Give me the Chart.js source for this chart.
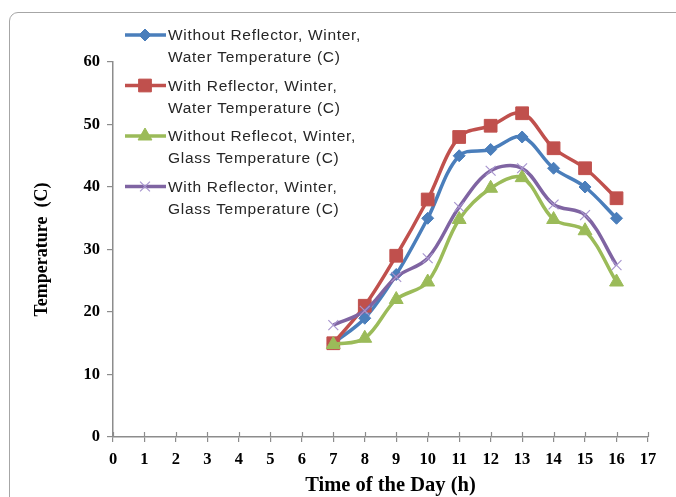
<!DOCTYPE html>
<html>
<head>
<meta charset="utf-8">
<script src="https://cdn.jsdelivr.net/npm/chart.js@4.4.1/dist/chart.umd.min.js"></script>
<style>
    html, body { margin: 0; padding: 0; background: #fff; }
    #wrap { position: relative; width: 676px; height: 497px; overflow: hidden; }
    #frame { position: absolute; left: 9px; top: 12px; width: 720px; height: 540px;
             border: 1px solid #a6a6a6; border-radius: 9px; }
    #chart { position: absolute; left: 0; top: 0; }
</style>
</head>
<body>
<div id="wrap">
    <div id="frame"></div>
    <canvas id="chart" width="676" height="497"></canvas>
</div>
<script>
'use strict';

// hour of the day for each reading
const hours = [7, 8, 9, 10, 11, 12, 13, 14, 15, 16];

// temperatures in C
const withoutReflectorWater = [15, 19, 26, 35, 45, 46, 48, 43, 40, 35];
const withReflectorWater = [15, 21, 29, 38, 48, 49.8, 51.8, 46.2, 43, 38.2];
const withoutReflectorGlass = [14.8, 15.8, 22, 24.8, 34.8, 39.8, 41.5, 34.8, 33, 24.8];
const withReflectorGlass = [17.9, 20.2, 25.6, 28.6, 36.8, 42.6, 43, 37.2, 35.5, 27.5];

const seriesNames = [
    ['Without Reflector, Winter,', 'Water Temperature (C)'],
    ['With Reflector, Winter,', 'Water Temperature (C)'],
    ['Without Reflecot, Winter,', 'Glass Temperature (C)'],
    ['With Reflector, Winter,', 'Glass Temperature (C)']
];

const xTitle = 'Time of the Day (h)';
const yTitle = 'Temperature  (C)';

const xMin = 0, xMax = 17, xStep = 1;
const yMin = 0, yMax = 60, yStep = 10;

const AXIS_COLOR = '#8c8c8c';
const SERIF = '"Liberation Serif", "Times New Roman", serif';

function toPoints(values) {
    return values.map((v, i) => ({x: hours[i], y: v}));
}

function makeSeries(idx, values, color, style, radius, extra) {
    return Object.assign({
        label: seriesNames[idx].join(' '),
        data: toPoints(values),
        borderColor: color,
        backgroundColor: color,
        borderWidth: 3.5,
        tension: 0.35,
        pointStyle: style,
        pointRadius: radius,
        pointHoverRadius: radius,
        pointBorderColor: color,
        pointBackgroundColor: color,
        pointBorderWidth: 1
    }, extra || {});
}

const datasets = [
    makeSeries(0, withoutReflectorWater, '#4a7ebb', 'rectRot', 6, {order: 4}),
    makeSeries(1, withReflectorWater, '#c0504d', 'rect', 9, {order: 3}),
    makeSeries(2, withoutReflectorGlass, '#9bbb59', 'triangle', 8, {order: 2}),
    makeSeries(3, withReflectorGlass, '#7f64a2', 'crossRot', 7,
        {order: 1, pointBorderColor: '#a896cf', pointBorderWidth: 1.2})
];

// legend with two-line labels, drawn in the upper left of the plot
const twoLineLegend = {
    id: 'twoLineLegend',
    afterDraw(chart) {
        const ctx = chart.ctx;
        ctx.save();
        ctx.font = '15.5px "Liberation Sans", Arial, sans-serif';
        ctx.letterSpacing = '0.7px';
        ctx.textBaseline = 'middle';
        ctx.textAlign = 'left';
        chart.data.datasets.forEach((ds, i) => {
            const y = 35 + i * 50.5;
            ctx.strokeStyle = ds.borderColor;
            ctx.lineWidth = ds.borderWidth;
            ctx.beginPath();
            ctx.moveTo(125, y);
            ctx.lineTo(166, y);
            ctx.stroke();
            ctx.fillStyle = ds.pointBackgroundColor;
            ctx.strokeStyle = ds.pointBorderColor;
            ctx.lineWidth = ds.pointBorderWidth;
            Chart.helpers.drawPoint(ctx, {
                pointStyle: ds.pointStyle,
                radius: ds.pointRadius,
                rotation: 0,
                borderWidth: ds.pointBorderWidth
            }, 145, y);
            ctx.fillStyle = '#262626';
            seriesNames[i].forEach((line, k) => {
                ctx.fillText(line, 168, y + 1 + k * 22);
            });
        });
        ctx.restore();
    }
};

// the x ticks cross the axis line, so add the part above it;
// the x title sits a little right of the axis centre
const xAxisExtras = {
    id: 'xAxisExtras',
    afterDraw(chart) {
        const sx = chart.scales.x;
        const ctx = chart.ctx;
        const area = chart.chartArea;
        ctx.save();
        ctx.strokeStyle = AXIS_COLOR;
        ctx.lineWidth = 1.2;
        sx.ticks.forEach(t => {
            const px = Math.round(sx.getPixelForValue(t.value)) + 0.5;
            ctx.beginPath();
            ctx.moveTo(px, area.bottom - 5);
            ctx.lineTo(px, area.bottom);
            ctx.stroke();
        });
        ctx.font = 'bold 20.5px ' + SERIF;
        ctx.fillStyle = '#000';
        ctx.textAlign = 'center';
        ctx.textBaseline = 'middle';
        ctx.fillText(xTitle, (area.left + area.right) / 2 + 10, sx.bottom - 11);
        ctx.restore();
    }
};

new Chart(document.getElementById('chart'), {
    type: 'line',
    data: {datasets: datasets},
    plugins: [twoLineLegend, xAxisExtras],
    options: {
        responsive: false,
        animation: false,
        layout: {padding: {left: 0, top: 62, right: 28, bottom: 0}},
        plugins: {
            legend: {display: false},
            tooltip: {enabled: false}
        },
        scales: {
            x: {
                type: 'linear',
                min: xMin,
                max: xMax,
                ticks: {
                    stepSize: xStep,
                    color: '#000',
                    padding: 8,
                    font: {family: SERIF, size: 16.5, weight: 'bold'}
                },
                grid: {drawOnChartArea: false, tickLength: 5, color: AXIS_COLOR, lineWidth: 1.2},
                border: {color: AXIS_COLOR, width: 1.5},
                afterFit(scale) { scale.height = 60; }
            },
            y: {
                min: yMin,
                max: yMax,
                ticks: {
                    stepSize: yStep,
                    color: '#000',
                    padding: 7,
                    font: {family: SERIF, size: 16.5, weight: 'bold'}
                },
                grid: {drawOnChartArea: false, tickLength: 6, color: AXIS_COLOR, lineWidth: 1.2},
                border: {color: AXIS_COLOR, width: 1.5},
                title: {
                    display: true,
                    text: yTitle,
                    color: '#000',
                    padding: {top: 32, bottom: 0},
                    font: {family: SERIF, size: 18, weight: 'bold'}
                },
                afterFit(scale) { scale.width = 113; }
            }
        }
    }
});
</script>
</body>
</html>
